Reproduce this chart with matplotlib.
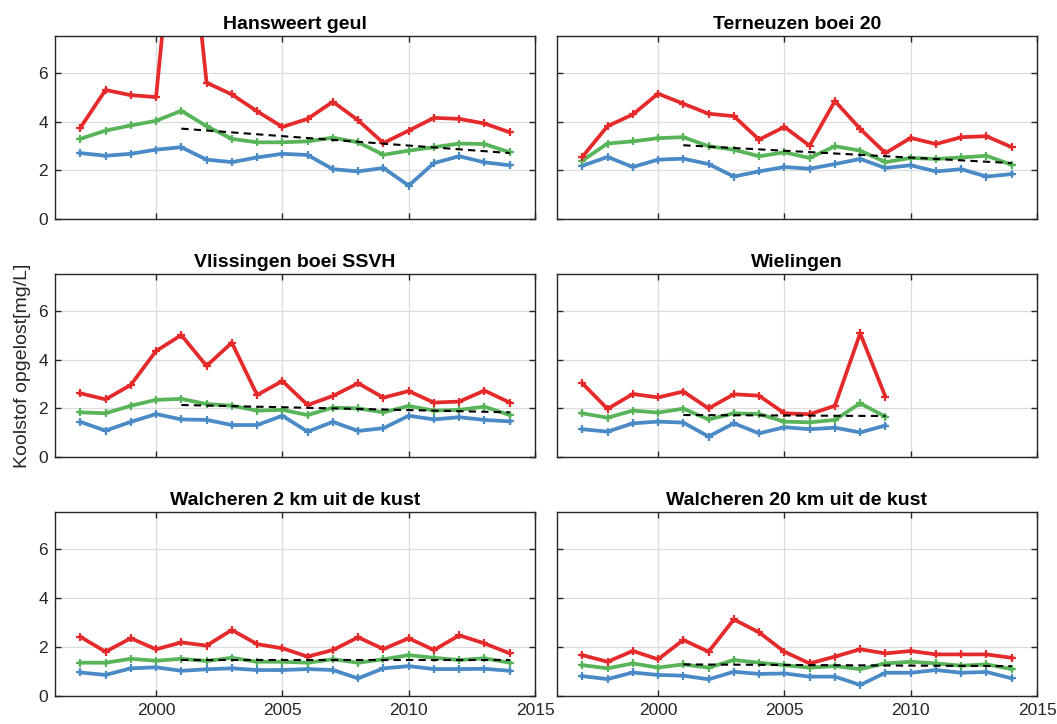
import matplotlib
matplotlib.use("Agg")
import matplotlib.pyplot as plt
import numpy as np

plt.rcParams['font.family'] = ['Liberation Sans', 'DejaVu Sans']

# station names (panel titles)
stations = ["Hansweert geul", "Terneuzen boei 20",
            "Vlissingen boei SSVH", "Wielingen",
            "Walcheren 2 km uit de kust", "Walcheren 20 km uit de kust"]

years = list(range(1997, 2015))
years_wiel = list(range(1997, 2010))

# red = max, green = mean, blue = min  (mg/L)
red_hans = [3.74, 5.29, 5.08, 5.00, 15.5, 5.59, 5.11, 4.42, 3.78, 4.11, 4.81, 4.05, 3.12, 3.63, 4.15, 4.11, 3.92, 3.56]
green_hans = [3.29, 3.63, 3.84, 4.03, 4.44, 3.81, 3.29, 3.15, 3.15, 3.19, 3.34, 3.15, 2.64, 2.81, 2.95, 3.10, 3.08, 2.74]
blue_hans = [2.71, 2.60, 2.68, 2.85, 2.95, 2.44, 2.34, 2.53, 2.68, 2.63, 2.05, 1.96, 2.10, 1.38, 2.30, 2.58, 2.33, 2.21]

red_tern = [2.55, 3.81, 4.29, 5.14, 4.73, 4.32, 4.22, 3.26, 3.78, 3.01, 4.84, 3.70, 2.71, 3.33, 3.08, 3.36, 3.40, 2.95]
green_tern = [2.40, 3.10, 3.19, 3.32, 3.36, 2.99, 2.85, 2.58, 2.74, 2.51, 2.99, 2.81, 2.34, 2.51, 2.47, 2.53, 2.60, 2.23]
blue_tern = [2.19, 2.55, 2.14, 2.44, 2.48, 2.26, 1.75, 1.96, 2.14, 2.07, 2.26, 2.47, 2.10, 2.21, 1.96, 2.05, 1.75, 1.85]

red_vlis = [2.62, 2.37, 2.96, 4.35, 5.00, 3.74, 4.69, 2.55, 3.12, 2.14, 2.51, 3.03, 2.44, 2.71, 2.24, 2.28, 2.73, 2.24]
green_vlis = [1.84, 1.80, 2.11, 2.35, 2.39, 2.18, 2.11, 1.91, 1.94, 1.73, 2.03, 2.00, 1.84, 2.10, 1.91, 1.94, 2.07, 1.73]
blue_vlis = [1.45, 1.09, 1.45, 1.77, 1.55, 1.53, 1.32, 1.32, 1.70, 1.05, 1.45, 1.08, 1.19, 1.70, 1.55, 1.64, 1.53, 1.47]

red_wiel = [3.03, 1.98, 2.59, 2.45, 2.69, 2.00, 2.58, 2.52, 1.80, 1.76, 2.11, 5.07, 2.48]
green_wiel = [1.80, 1.62, 1.91, 1.83, 1.99, 1.55, 1.80, 1.77, 1.46, 1.43, 1.53, 2.21, 1.66]
blue_wiel = [1.15, 1.05, 1.39, 1.46, 1.42, 0.85, 1.39, 0.98, 1.23, 1.15, 1.21, 1.02, 1.30]

red_w2 = [2.41, 1.80, 2.35, 1.90, 2.18, 2.05, 2.69, 2.11, 1.94, 1.60, 1.87, 2.39, 1.91, 2.35, 1.87, 2.47, 2.14, 1.73]
green_w2 = [1.35, 1.35, 1.51, 1.43, 1.51, 1.42, 1.55, 1.39, 1.39, 1.35, 1.49, 1.35, 1.49, 1.66, 1.55, 1.46, 1.53, 1.35]
blue_w2 = [0.95, 0.85, 1.12, 1.16, 1.02, 1.08, 1.12, 1.05, 1.05, 1.09, 1.05, 0.71, 1.12, 1.21, 1.09, 1.09, 1.10, 1.02]

red_w20 = [1.66, 1.39, 1.83, 1.49, 2.28, 1.80, 3.12, 2.59, 1.80, 1.32, 1.60, 1.90, 1.73, 1.83, 1.69, 1.69, 1.69, 1.55]
green_w20 = [1.25, 1.12, 1.32, 1.15, 1.28, 1.15, 1.46, 1.35, 1.25, 1.15, 1.21, 1.09, 1.32, 1.39, 1.32, 1.23, 1.28, 1.09]
blue_w20 = [0.80, 0.68, 0.95, 0.85, 0.82, 0.67, 0.98, 0.89, 0.91, 0.78, 0.78, 0.44, 0.94, 0.94, 1.05, 0.94, 0.97, 0.71]

# trend line: (start year, end year), (start value, end value)
trend_years = [(2001, 2014), (2001, 2014), (2001, 2014), (2001, 2009), (2001, 2014), (2001, 2014)]
trend_vals = [(3.71, 2.71), (3.03, 2.30), (2.14, 1.84), (1.73, 1.69), (1.45, 1.45), (1.28, 1.21)]

panels = [
    (years, red_hans, green_hans, blue_hans),
    (years, red_tern, green_tern, blue_tern),
    (years, red_vlis, green_vlis, blue_vlis),
    (years_wiel, red_wiel, green_wiel, blue_wiel),
    (years, red_w2, green_w2, blue_w2),
    (years, red_w20, green_w20, blue_w20),
]

RED = '#e52a2c'
GREEN = '#58b458'
BLUE = '#4a8ac6'

fig = plt.figure(figsize=(10.57, 7.24), dpi=100)

lefts = [55 / 1057, 557 / 1057]
bottoms = [1 - 219.3 / 724, 1 - 457.3 / 724, 1 - 695.7 / 724]
w = 480 / 1057
h = 183.3 / 724

for i, (x, r, g, b) in enumerate(panels):
    row, col = divmod(i, 2)
    ax = fig.add_axes([lefts[col], bottoms[row], w, h])
    for vals, c in [(b, BLUE), (g, GREEN), (r, RED)]:
        ax.plot(x, vals, color=c, lw=2.7, marker='+', ms=6, mew=1.6)
    ax.plot(trend_years[i], trend_vals[i], color='black', ls=(0, (3.5, 2.5)), lw=1.5)

    ax.set_xlim(1996, 2015)
    ax.set_ylim(0, 7.5)
    ax.set_xticks([2000, 2005, 2010, 2015])
    ax.set_yticks([0, 2, 4, 6])
    ax.grid(True, color='#dcdcdc', lw=0.9)
    ax.set_axisbelow(True)
    ax.tick_params(direction='in', top=True, right=True, length=4,
                   labelsize=12.5, colors='#262626', width=1, pad=5)
    for s in ax.spines.values():
        s.set_color('#262626')
        s.set_linewidth(1.0)
    if row < 2:
        ax.tick_params(labelbottom=False)
    if col == 1:
        ax.tick_params(labelleft=False)
    ax.set_title(stations[i], fontsize=14, fontweight='bold', pad=5)

fig.text(0.021, 1 - 366 / 724, "Koolstof opgelost[mg/L]", rotation=90,
         ha='center', va='center', fontsize=14, color='#262626')

fig.savefig("out.png", dpi=100)
